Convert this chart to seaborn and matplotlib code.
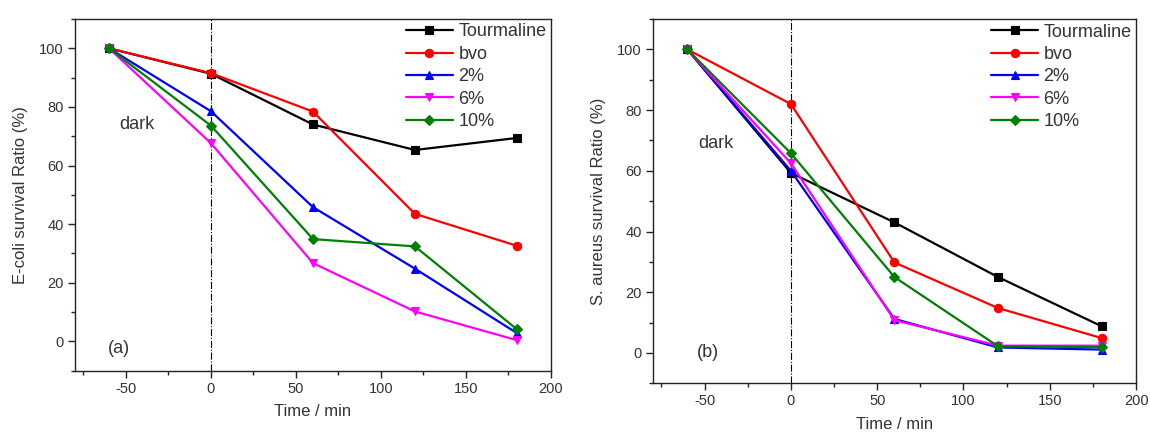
import matplotlib
matplotlib.use("Agg")
import matplotlib.pyplot as plt
import seaborn as sns
import pandas as pd
from matplotlib.ticker import MultipleLocator

times = [-60, 0, 60, 120, 180]
samples = ["Tourmaline", "bvo", "2%", "6%", "10%"]

ecoli_tourmaline = [100, 91.3, 74.0, 65.3, 69.4]
ecoli_bvo = [100, 91.5, 78.4, 43.5, 32.6]
ecoli_2 = [100, 78.5, 45.8, 24.8, 2.8]
ecoli_6 = [100, 67.6, 26.7, 10.2, 0.4]
ecoli_10 = [100, 73.6, 34.9, 32.4, 4.1]

saureus_tourmaline = [100, 59.3, 43.0, 25.0, 8.8]
saureus_bvo = [100, 82.0, 29.8, 14.8, 4.9]
saureus_2 = [100, 60.0, 11.2, 1.8, 1.1]
saureus_6 = [100, 62.5, 10.8, 2.4, 2.4]
saureus_10 = [100, 65.8, 25.0, 2.2, 1.9]

colors = ["#000000", "#ff0000", "#0000ff", "#ff00ff", "#008000"]
markers = ["s", "o", "^", "v", "D"]

ecoli = [ecoli_tourmaline, ecoli_bvo, ecoli_2, ecoli_6, ecoli_10]
saureus = [saureus_tourmaline, saureus_bvo, saureus_2, saureus_6, saureus_10]


def to_long(series_list):
    rows = []
    for name, vals in zip(samples, series_list):
        for t, v in zip(times, vals):
            rows.append({"Time": t, "Ratio": v, "Sample": name})
    return pd.DataFrame(rows)


sns.set_theme(style="ticks")
plt.rcParams["font.family"] = ["Liberation Sans", "DejaVu Sans"]
plt.rcParams["axes.unicode_minus"] = False
text_color = "#333333"

fig = plt.figure(figsize=(11.5, 4.38), dpi=100)
ax1 = fig.add_axes([0.0652, 0.1537, 0.4139, 0.803])
ax2 = fig.add_axes([0.5676, 0.1249, 0.4203, 0.8317])

panels = [
    (ax1, ecoli, "E-coli survival Ratio (%)", "(a)", (-54, -2.4), (-43.5, 74)),
    (ax2, saureus, "S. aureus survival Ratio (%)", "(b)", (-48, 0), (-43.4, 69)),
]

for ax, data, ylabel, tag, tagpos, darkpos in panels:
    df = to_long(data)
    sns.lineplot(data=df, x="Time", y="Ratio", hue="Sample", style="Sample",
                 hue_order=samples, style_order=samples,
                 palette=dict(zip(samples, colors)),
                 markers=dict(zip(samples, markers)), dashes=False,
                 markersize=6, linewidth=1.6, legend=False, ax=ax)
    lines = list(ax.lines[:5])
    for ln in lines:
        ln.set_markeredgecolor(ln.get_color())
        ln.set_markeredgewidth(0.8)
        if ln.get_marker() == "D":
            ln.set_markersize(5.5)
    ax.axvline(0, color="black", linestyle="-.", linewidth=0.8, zorder=0)

    ax.set_xlim(-80, 200)
    ax.set_ylim(-10, 110)
    ax.xaxis.set_major_locator(MultipleLocator(50))
    ax.xaxis.set_minor_locator(MultipleLocator(25))
    ax.yaxis.set_major_locator(MultipleLocator(20))
    ax.yaxis.set_minor_locator(MultipleLocator(10))
    ax.tick_params(which="major", direction="out", length=5, width=1,
                   labelsize=10.5, labelcolor=text_color, color="#222222", pad=3)
    ax.tick_params(which="minor", direction="out", length=3, width=1,
                   color="#222222")
    for sp in ax.spines.values():
        sp.set_linewidth(1.0)
        sp.set_color("#222222")
    ax.set_xlabel("Time / min", fontsize=12, color=text_color, labelpad=6)
    ax.set_ylabel(ylabel, fontsize=12, color=text_color, labelpad=8)

    ax.text(tagpos[0], tagpos[1], tag, fontsize=13, color=text_color,
            ha="center", va="center")
    ax.text(darkpos[0], darkpos[1], "dark", fontsize=13, color=text_color,
            ha="center", va="center")

    ax.legend(lines, samples, loc="upper right", frameon=False, fontsize=13,
              handlelength=2.6, handletextpad=0.3, labelspacing=0.3,
              borderaxespad=0.1, borderpad=0.15, labelcolor=text_color)

fig.savefig("out.png", dpi=100)
